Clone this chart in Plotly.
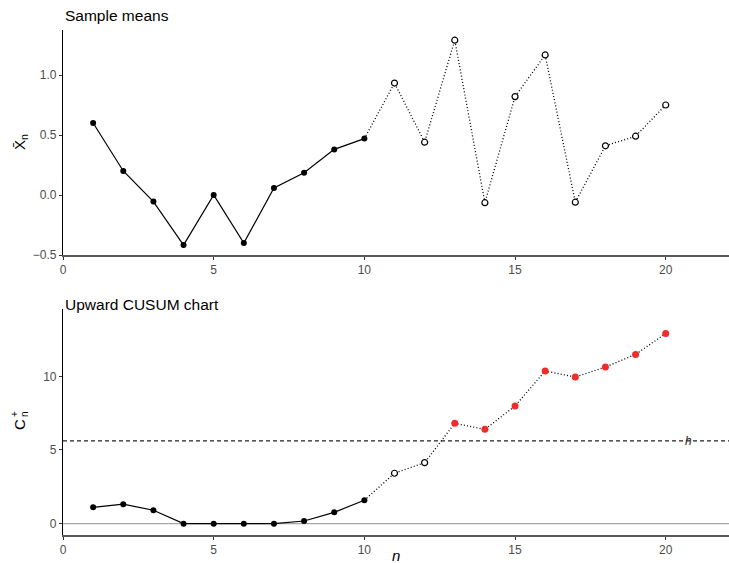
import plotly.graph_objects as go

n = list(range(1, 21))
xbar = [0.60, 0.20, -0.055, -0.417, 0.0, -0.40, 0.058, 0.186, 0.38, 0.47,
        0.933, 0.44, 1.29, -0.064, 0.82, 1.167, -0.06, 0.41, 0.49, 0.75]
cusum = [1.11, 1.32, 0.91, 0.0, 0.0, 0.0, 0.0, 0.18, 0.77, 1.59,
         3.42, 4.14, 6.81, 6.40, 7.99, 10.36, 9.95, 10.63, 11.49, 12.91]
h = 5.62
n_obs = 10  # phase I points (solid line)

RED = "#EE2C2C"
TICK = "#4D4D4D"
FONT = "Liberation Sans, Arial, sans-serif"
DOT = "1px,2.2px"

fig = go.Figure()

# ---- top panel ----
fig.add_trace(go.Scatter(x=n[n_obs-1:], y=xbar[n_obs-1:], mode="lines",
                         line=dict(color="black", width=1.3, dash=DOT),
                         xaxis="x", yaxis="y", showlegend=False))
fig.add_trace(go.Scatter(x=n[:n_obs], y=xbar[:n_obs], mode="lines+markers",
                         line=dict(color="black", width=1.2),
                         marker=dict(color="black", size=6),
                         xaxis="x", yaxis="y", showlegend=False))
fig.add_trace(go.Scatter(x=n[n_obs:], y=xbar[n_obs:], mode="markers",
                         marker=dict(color="white", size=6, line=dict(color="black", width=1.2)),
                         xaxis="x", yaxis="y", showlegend=False))

# ---- bottom panel ----
fig.add_trace(go.Scatter(x=[0, 22.1], y=[0, 0], mode="lines",
                         line=dict(color="#A6A6A6", width=1.2),
                         xaxis="x2", yaxis="y2", showlegend=False, hoverinfo="skip"))
fig.add_trace(go.Scatter(x=[0, 22.1], y=[h, h], mode="lines",
                         line=dict(color="#222222", width=1.1, dash="4px,3px"),
                         xaxis="x2", yaxis="y2", showlegend=False, hoverinfo="skip"))
fig.add_trace(go.Scatter(x=n[n_obs-1:], y=cusum[n_obs-1:], mode="lines",
                         line=dict(color="black", width=1.3, dash=DOT),
                         xaxis="x2", yaxis="y2", showlegend=False))
fig.add_trace(go.Scatter(x=n[:n_obs], y=cusum[:n_obs], mode="lines+markers",
                         line=dict(color="black", width=1.2),
                         marker=dict(color="black", size=6),
                         xaxis="x2", yaxis="y2", showlegend=False))
in_ctrl = [(i, c) for i, c in zip(n[n_obs:], cusum[n_obs:]) if c <= h]
out_ctrl = [(i, c) for i, c in zip(n[n_obs:], cusum[n_obs:]) if c > h]
fig.add_trace(go.Scatter(x=[p[0] for p in in_ctrl], y=[p[1] for p in in_ctrl], mode="markers",
                         marker=dict(color="white", size=6, line=dict(color="black", width=1.2)),
                         xaxis="x2", yaxis="y2", showlegend=False))
fig.add_trace(go.Scatter(x=[p[0] for p in out_ctrl], y=[p[1] for p in out_ctrl], mode="markers",
                         marker=dict(color=RED, size=7),
                         xaxis="x2", yaxis="y2", showlegend=False))

axis_common = dict(showgrid=False, zeroline=False, ticks="outside", ticklen=3, automargin=False,
                   tickcolor="#333333", tickfont=dict(size=12, color=TICK, family=FONT))

W, H, L = 729, 563, 63


def px_x(p):
    return (p - L) / (W - L)


def px_y(p):
    return 1 - p / H


fig.update_layout(
    width=W, height=H,
    margin=dict(l=L, r=0, t=0, b=0, autoexpand=False),
    plot_bgcolor="white", paper_bgcolor="white",
    font=dict(family=FONT),
    xaxis=dict(domain=[0, 1], range=[0, 22.1], anchor="y", tickvals=[0, 5, 10, 15, 20],
               showline=True, linecolor="#5A5A5A", linewidth=2, **axis_common),
    yaxis=dict(domain=[px_y(255), px_y(30)], range=[-0.5, 1.375], anchor="x",
               tickvals=[-0.5, 0, 0.5, 1.0], tickformat=".1f",
               showline=True, linecolor="black", linewidth=1.2,
               **axis_common),
    xaxis2=dict(domain=[0, 1], range=[0, 22.1], anchor="y2", tickvals=[0, 5, 10, 15, 20],
                showline=True, linecolor="#5A5A5A", linewidth=2,
                **axis_common),
    yaxis2=dict(domain=[px_y(535), px_y(309)], range=[-0.77, 14.57], anchor="x2",
                tickvals=[0, 5, 10],
                showline=True, linecolor="black", linewidth=1.2,
                **axis_common),
    annotations=[
        dict(text="Sample means", x=0, y=px_y(15), xref="paper", yref="paper",
             xanchor="left", yanchor="middle", showarrow=False,
             font=dict(size=15.5, color="black", family=FONT)),
        dict(text="Upward CUSUM chart", x=0, y=px_y(304), xref="paper", yref="paper",
             xanchor="left", yanchor="middle", showarrow=False,
             font=dict(size=15.5, color="black", family=FONT)),
        dict(text="<i>h</i>", x=20.75, y=h, xref="x2", yref="y2",
             xanchor="center", yanchor="middle", showarrow=False,
             font=dict(size=12, color="#222222", family=FONT)),
        dict(text="<i>n</i>", x=0.5, y=px_y(555), xref="paper", yref="paper",
             xanchor="center", yanchor="middle", showarrow=False,
             font=dict(size=15, color="black", family=FONT)),
        # y-axis title of top panel: X-bar with subscript n
        dict(text="X\u0304<sub>n</sub>", x=px_x(20), y=px_y(142), xref="paper", yref="paper",
             xanchor="center", yanchor="middle", showarrow=False, textangle=-90,
             font=dict(size=15, color="black", family=FONT)),
        # y-axis title of bottom panel: C with stacked + and n
        dict(text="C", x=px_x(19), y=px_y(425), xref="paper", yref="paper",
             xanchor="center", yanchor="middle", showarrow=False, textangle=-90,
             font=dict(size=15, color="black", family=FONT)),
        dict(text="+", x=px_x(14), y=px_y(414), xref="paper", yref="paper",
             xanchor="center", yanchor="middle", showarrow=False, textangle=-90,
             font=dict(size=10, color="black", family=FONT)),
        dict(text="n", x=px_x(24), y=px_y(414), xref="paper", yref="paper",
             xanchor="center", yanchor="middle", showarrow=False, textangle=-90,
             font=dict(size=10, color="black", family=FONT)),
    ],
)

fig.write_html("out.html")
